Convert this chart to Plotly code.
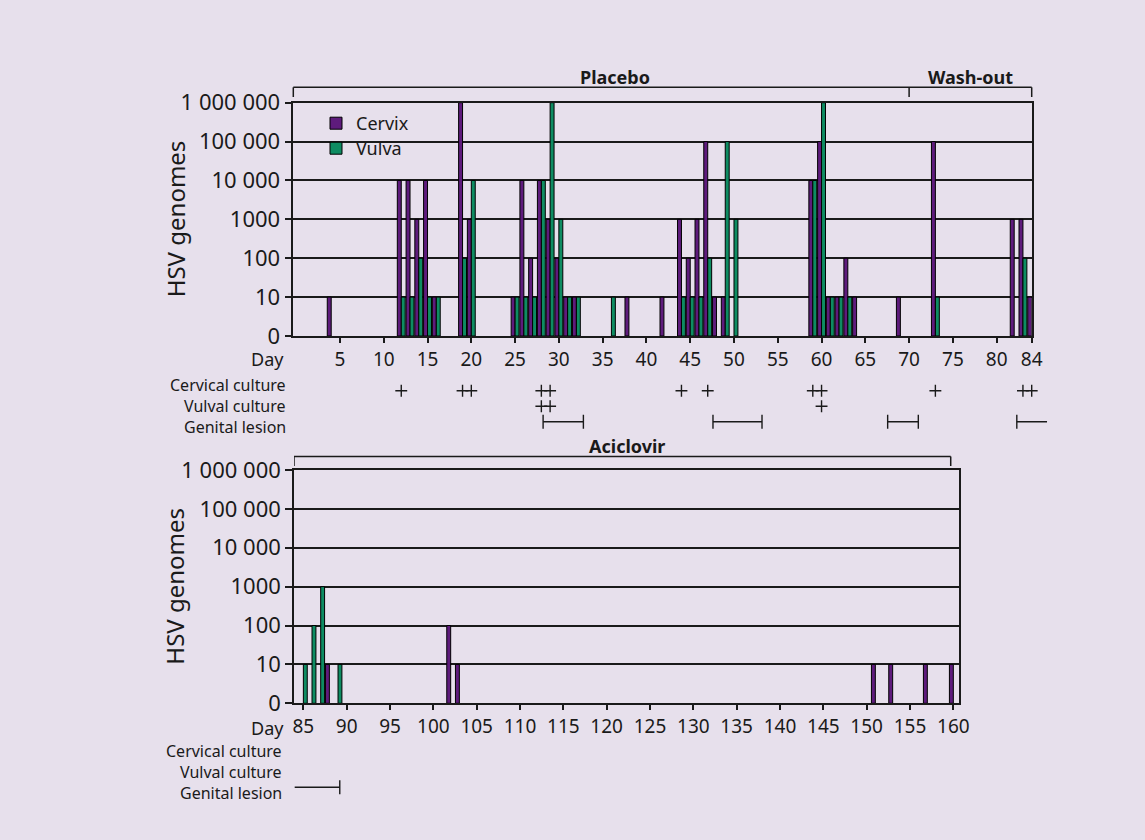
import numpy as np
import plotly.graph_objects as go

# ---------------- data ----------------
# Placebo + wash-out period (days 0-84)
top_days = [4, 12, 13, 14, 15, 16, 19, 20, 25, 26, 27, 28, 29, 30, 31, 32, 36, 38, 42,
            44, 45, 46, 47, 48, 49, 50, 59, 60, 61, 62, 63, 64, 69, 73, 82, 83, 84]
top_cervix = [10, 10000, 10000, 1000, 10000, 10, 1000000, 1000, 10, 10000, 100, 10000, 1000, 100,
              10, 10, 0, 10, 10, 1000, 100, 1000, 100000, 10, 10, 0, 10000, 100000, 10, 10, 100,
              10, 10, 100000, 1000, 1000, 10]
top_vulva = [0, 10, 10, 100, 10, 10, 100, 10000, 10, 10, 10, 10000, 1000000, 1000, 10, 10, 10, 0,
             0, 10, 10, 10, 100, 0, 100000, 1000, 10000, 1000000, 10, 10, 10, 0, 0, 10, 0, 100, 0]

# Aciclovir period (days 85-160)
bot_days = [85, 86, 87, 88, 89, 102, 103, 151, 153, 157, 160]
bot_cervix = [0, 0, 0, 10, 0, 100, 10, 10, 10, 10, 10]
bot_vulva = [10, 100, 1000, 0, 10, 0, 0, 0, 0, 0, 0]

# culture / lesion rows
cervical_culture_days = [12, 19, 20, 28, 29, 44, 47, 59, 60, 73, 83, 84]
vulval_culture_days = [28, 29, 60]
lesion_start = [28.2, 47.6, 67.55, 82.3]
lesion_end = [32.8, 53.2, 71.05, 85.75]
lesion_continues = [False, False, False, True]
bot_lesion_start = [84.0]
bot_lesion_end = [89.2]

y_levels = [0, 1, 2, 3, 4, 5, 6]
y_labels = ["0", "10", "100", "1000", "10 000", "100 000", "1 000 000"]
top_ticks = [5, 10, 15, 20, 25, 30, 35, 40, 45, 50, 55, 60, 65, 70, 75, 80, 84]
bot_ticks = list(range(85, 161, 5))
row_names = ["Cervical culture", "Vulval culture", "Genital lesion"]

# ---------------- style ----------------
BG = "#E7E0EC"
PURPLE = "#5E1B7C"
GREEN = "#0E8C62"
INK = "#1a1a1a"
FONT = "Noto Sans"


def lv(vals):
    return [float(np.log10(v)) if v > 0 else None for v in vals]


fig = go.Figure()

bar_line = dict(color="black", width=1)
fig.add_trace(go.Bar(x=top_days, y=lv(top_cervix), name="Cervix", legend="legend",
                     marker=dict(color=PURPLE, line=bar_line), xaxis="x", yaxis="y"))
fig.add_trace(go.Bar(x=top_days, y=lv(top_vulva), name="Vulva", legend="legend2",
                     marker=dict(color=GREEN, line=bar_line), xaxis="x", yaxis="y"))
fig.add_trace(go.Bar(x=bot_days, y=lv(bot_cervix), name="Cervix", showlegend=False,
                     marker=dict(color=PURPLE, line=bar_line), xaxis="x2", yaxis="y2"))
fig.add_trace(go.Bar(x=bot_days, y=lv(bot_vulva), name="Vulva", showlegend=False,
                     marker=dict(color=GREEN, line=bar_line), xaxis="x2", yaxis="y2"))

ROW_C, ROW_V, ROW_L = 2, 1, 0
plus = dict(symbol="cross-thin", size=8.5, color=INK, line=dict(width=1.4, color=INK))
cap = dict(symbol="line-ns", size=10, color=INK, line=dict(width=1.4, color=INK))

fig.add_trace(go.Scatter(x=cervical_culture_days, y=[ROW_C] * len(cervical_culture_days),
                         mode="markers", marker=plus, showlegend=False, hoverinfo="skip",
                         xaxis="x3", yaxis="y3"))
fig.add_trace(go.Scatter(x=vulval_culture_days, y=[ROW_V] * len(vulval_culture_days),
                         mode="markers", marker=plus, showlegend=False, hoverinfo="skip",
                         xaxis="x3", yaxis="y3"))

lx, ly, cx = [], [], []
for s, e, cont in zip(lesion_start, lesion_end, lesion_continues):
    lx += [s, e, None]
    ly += [ROW_L, ROW_L, None]
    cx.append(s)
    if not cont:
        cx.append(e)
fig.add_trace(go.Scatter(x=lx, y=ly, mode="lines", line=dict(color=INK, width=1.4),
                         showlegend=False, hoverinfo="skip", xaxis="x3", yaxis="y3"))
fig.add_trace(go.Scatter(x=cx, y=[ROW_L] * len(cx), mode="markers", marker=cap,
                         showlegend=False, hoverinfo="skip", xaxis="x3", yaxis="y3"))

bx, by = [], []
for s, e in zip(bot_lesion_start, bot_lesion_end):
    bx += [s, e, None]
    by += [ROW_L, ROW_L, None]
fig.add_trace(go.Scatter(x=bx, y=by, mode="lines", line=dict(color=INK, width=1.4),
                         showlegend=False, hoverinfo="skip", xaxis="x2", yaxis="y4"))
fig.add_trace(go.Scatter(x=bot_lesion_end, y=[ROW_L] * len(bot_lesion_end), mode="markers",
                         marker=cap, showlegend=False, hoverinfo="skip", xaxis="x2", yaxis="y4",
                         cliponaxis=False))

# ---------------- axes ----------------
W, H = 1145, 840
top_x_dom = [293.3 / W, 1031.7 / W]
top_x_rng = [-0.33, 84]
bot_x_dom = [294 / W, 959.3 / W]
bot_x_rng = [83.92, 160.69]
top_y_dom = [1 - 336 / H, 1 - 102.7 / H]
bot_y_dom = [1 - 703.3 / H, 1 - 470 / H]

# extended x axis for the culture/lesion rows (same scale as the top axis)
scale = (top_x_rng[1] - top_x_rng[0]) / (top_x_dom[1] - top_x_dom[0])
ext_dom = [top_x_dom[0], 1062 / W]
ext_rng = [top_x_rng[0], top_x_rng[0] + scale * (ext_dom[1] - ext_dom[0])]

xcommon = dict(ticks="outside", ticklen=5, tickwidth=1.5, tickcolor=INK, showline=True,
               linecolor=INK, linewidth=1.5, mirror=True, showgrid=False, zeroline=False,
               tickfont=dict(size=19, color=INK, family=FONT), fixedrange=True,
               automargin=False)
ycommon = dict(range=[0, 6], tickmode="array", tickvals=y_levels, ticktext=y_labels,
               ticks="outside", ticklen=7, tickwidth=1.5, tickcolor=INK, showline=True,
               linecolor=INK, linewidth=1.5, mirror=True, showgrid=True, gridcolor=INK,
               gridwidth=1.5, zeroline=False, tickfont=dict(size=22, color=INK, family=FONT),
               fixedrange=True, automargin=False)

legfont = dict(size=18, color=INK, family=FONT)
fig.update_layout(
    xaxis=dict(domain=top_x_dom, range=top_x_rng, tickmode="array", tickvals=top_ticks,
               anchor="y", **xcommon),
    yaxis=dict(domain=top_y_dom, anchor="x", **ycommon),
    xaxis2=dict(domain=bot_x_dom, range=bot_x_rng, tickmode="array", tickvals=bot_ticks,
                anchor="y2", **xcommon),
    yaxis2=dict(domain=bot_y_dom, anchor="x2", **ycommon),
    xaxis3=dict(domain=ext_dom, range=ext_rng, visible=False, anchor="y3", fixedrange=True),
    yaxis3=dict(domain=[1 - 429.45 / H, 1 - 367.45 / H], range=[-0.5, 3.5], visible=False,
                anchor="x3", fixedrange=True),
    yaxis4=dict(domain=[1 - 795.05 / H, 1 - 733.05 / H], range=[-0.5, 3.5], visible=False,
                anchor="x2", fixedrange=True),
    barmode="group", bargap=0.1, bargroupgap=0,
    width=W, height=H, autosize=False,
    margin=dict(l=0, r=0, t=0, b=0, pad=0, autoexpand=False),
    paper_bgcolor=BG, plot_bgcolor=BG,
    font=dict(family=FONT, color=INK),
    legend=dict(x=316 / W, y=1 - 123.5 / H, xanchor="left", yanchor="middle",
                bgcolor="rgba(0,0,0,0)", font=legfont, borderwidth=0),
    legend2=dict(x=316 / W, y=1 - 148.5 / H, xanchor="left", yanchor="middle",
                 bgcolor="rgba(0,0,0,0)", font=legfont, borderwidth=0),
)

# ---------------- brackets ----------------
ln = dict(color=INK, width=1.5)
top_hi, top_lo = 1 - 87.3 / H, 1 - 97 / H
fig.add_shape(type="line", xref="x domain", yref="paper", x0=0, x1=1, y0=top_hi, y1=top_hi, line=ln)
fig.add_shape(type="line", xref="x domain", yref="paper", x0=0, x1=0, y0=top_hi, y1=top_lo, line=ln)
fig.add_shape(type="line", xref="x domain", yref="paper", x0=1, x1=1, y0=top_hi, y1=top_lo, line=ln)
fig.add_shape(type="line", xref="x", yref="paper", x0=70, x1=70, y0=top_hi, y1=top_lo, line=ln)

bot_hi, bot_lo = 1 - 456.5 / H, 1 - 466 / H
aci_end = 159.7
fig.add_shape(type="line", xref="x2", yref="paper", x0=bot_x_rng[0], x1=aci_end, y0=bot_hi, y1=bot_hi, line=ln)
fig.add_shape(type="line", xref="x2", yref="paper", x0=bot_x_rng[0], x1=bot_x_rng[0], y0=bot_hi, y1=bot_lo, line=ln)
fig.add_shape(type="line", xref="x2", yref="paper", x0=aci_end, x1=aci_end, y0=bot_hi, y1=bot_lo, line=ln)

bold = dict(size=18, color=INK, family=FONT)
for txt, xv, xr, ypx in (("<b>Placebo</b>", 36.4, "x", 77), ("<b>Wash-out</b>", 77, "x", 77),
                         ("<b>Aciclovir</b>", 122.3, "x2", 446)):
    fig.add_annotation(text=txt, x=xv, xref=xr, y=1 - ypx / H, yref="paper",
                       xanchor="center", yanchor="middle", showarrow=False, font=bold)

# ---------------- labels ----------------
lab = dict(size=18, color=INK, family=FONT)
for ypx in (359, 727.5):
    fig.add_annotation(text="Day", x=285 / W, xref="paper", xanchor="right", y=1 - ypx / H,
                       yref="paper", yanchor="middle", showarrow=False, font=lab, borderpad=0)

rowfont = dict(size=16, color=INK, family=FONT)
for xpx, ys in ((287, (385, 406, 427)), (283, (750.5, 771.5, 792.5))):
    for txt, ypx in zip(row_names, ys):
        fig.add_annotation(text=txt, x=xpx / W, xref="paper", xanchor="right", y=1 - ypx / H,
                           yref="paper", yanchor="middle", showarrow=False, font=rowfont,
                           borderpad=0)

tfont = dict(size=24, color=INK, family=FONT)
for dom in (top_y_dom, bot_y_dom):
    fig.add_annotation(text="HSV genomes", x=175 / W, xref="paper", xanchor="center",
                       y=(dom[0] + dom[1]) / 2, yref="paper", yanchor="middle",
                       textangle=-90, showarrow=False, font=tfont)

fig.write_html("out.html")
